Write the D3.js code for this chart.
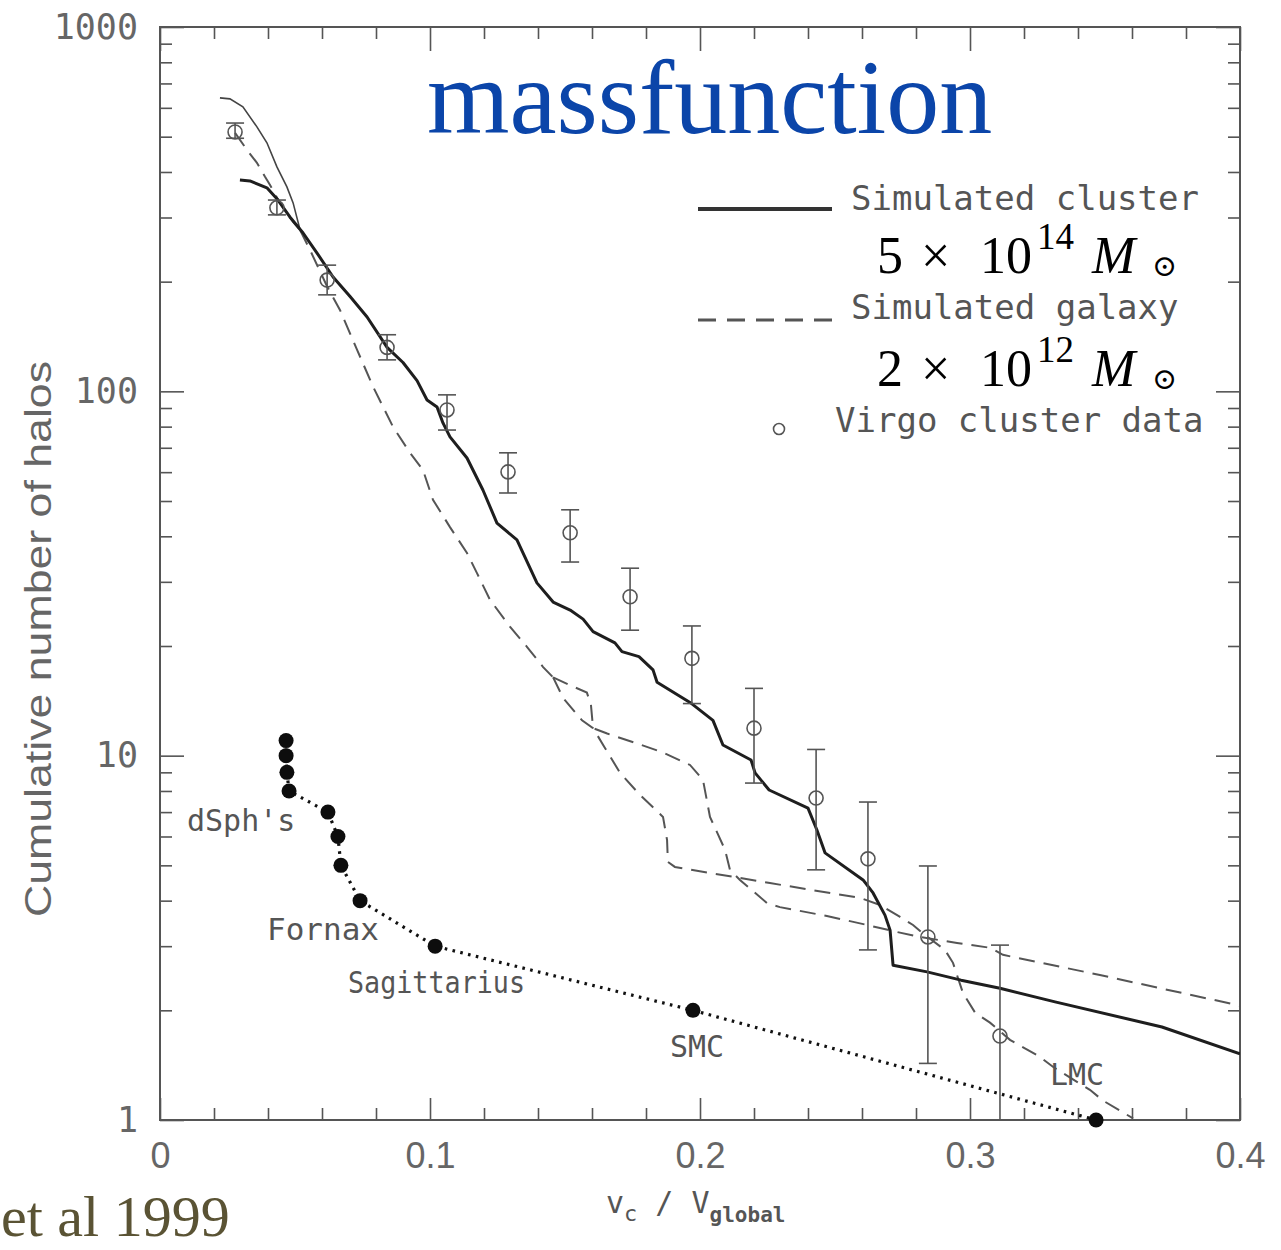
<!DOCTYPE html>
<html><head><meta charset="utf-8">
<script src="https://cdnjs.cloudflare.com/ajax/libs/d3/7.8.5/d3.min.js"></script>
<style>body{margin:0;background:#fff}svg{display:block}</style>
</head><body>
<svg id="chart" width="1281" height="1250"></svg>
<script>
// ---------- data ----------
const xTickValues = [0, 0.1, 0.2, 0.3, 0.4];
const xTickLabels = ["0", "0.1", "0.2", "0.3", "0.4"];
const xMinorTickValues = [0.02,0.04,0.06,0.08,0.12,0.14,0.16,0.18,0.22,0.24,0.26,0.28,0.32,0.34,0.36,0.38];
const yTickValues = [1, 10, 100, 1000];
const yTickLabels = ["1", "10", "100", "1000"];
const yMinorTickValues = [2,3,4,5,6,7,8,9,20,30,40,50,60,70,80,90,200,300,400,500,600,700,800,900];

// Simulated cluster (solid)
const clusterV = [0.0296,0.0333,0.0396,0.0437,0.0481,0.0530,0.0581,0.0641,0.0704,0.0767,0.0841,0.0900,0.0952,0.0989,0.1026,0.1048,0.1074,0.1137,0.1196,0.1248,0.1322,0.1396,0.1456,0.1519,0.1567,0.1604,0.1685,0.1711,0.1774,0.1826,0.1841,0.1963,0.2048,0.2085,0.2189,0.2204,0.2256,0.2400,0.2433,0.2463,0.2604,0.2641,0.2685,0.2704,0.2715,0.2841,0.2967,0.3111,0.3315,0.3711,0.4000];
const clusterN = [380,378,362,335,301,272,240,206,182,160,132,120,107,94.7,90.6,81.9,75.0,65.6,53.6,43.5,39.1,29.8,26.4,25.1,23.7,21.9,20.4,19.3,18.7,17.2,15.9,14.0,12.5,10.7,9.73,8.97,8.05,7.18,6.25,5.41,4.56,4.20,3.65,3.32,2.66,2.55,2.42,2.30,2.11,1.80,1.52];

// Simulated galaxies (dashed); head of first curve appears solid/thin
const galaxyHeadSolidV = [0.0222,0.0259,0.0307,0.0359,0.0396,0.0433,0.0470,0.0493,0.0519];
const galaxyHeadSolidN = [639,635,604,532,481,413,364,329,277];
const galaxyHeadDashedV = [0.0278,0.0322,0.0359,0.0389,0.0407,0.0444,0.0493,0.0519];
const galaxyHeadDashedN = [512,460,424,388,369,329,292,277];
const galaxyTrunkV = [0.0519,0.0556,0.0619,0.0667,0.0730,0.0789,0.0863,0.0926,0.0974,0.1011,0.1074,0.1137,0.1174,0.1222,0.1296,0.1359,0.1419,0.1456];
const galaxyTrunkN = [277,244,194,167,130,103,79.9,67.8,60.8,50.4,42.4,36.0,31.7,26.8,22.6,19.9,17.5,16.4];
const galaxyAV = [0.1456,0.1519,0.1581,0.1596,0.1604,0.1656,0.1767,0.1863,0.1963,0.2011,0.2037,0.2093,0.2111,0.2148,0.2248,0.2296,0.2470,0.2619,0.2730,0.2815,0.2952,0.3074,0.3122,0.3481,0.4000];
const galaxyAN = [16.4,15.6,14.9,13.8,11.9,11.5,10.8,10.2,9.43,8.58,6.79,5.51,4.86,4.56,3.94,3.84,3.63,3.43,3.28,3.18,3.06,2.97,2.84,2.50,2.06];
const galaxyBV = [0.1456,0.1493,0.1563,0.1604,0.1648,0.1704,0.1778,0.1863,0.1878,0.1881,0.1907,0.2037,0.2148,0.2259,0.2593,0.2667,0.2741,0.2789,0.2833,0.2907,0.2937,0.2974,0.3019,0.3074,0.3148,0.3259,0.3307,0.3444,0.3493,0.3604];
const galaxyBN = [16.4,14.4,12.5,11.9,10.5,8.97,7.80,6.79,5.87,5.11,4.95,4.76,4.62,4.47,4.07,3.89,3.61,3.43,3.22,2.93,2.70,2.23,1.97,1.85,1.66,1.49,1.40,1.21,1.13,1.01];

// Virgo cluster data with error bars
const virgoV  = [0.0278,0.0433,0.0619,0.0841,0.1063,0.1289,0.1519,0.1741,0.1970,0.2200,0.2430,0.2622,0.2844,0.3111];
const virgoN  = [515,319,202,132,88.9,60.1,40.9,27.3,18.5,11.9,7.65,5.21,3.18,1.70];
const virgoLo = [495,305,184,122,78.3,52.6,34.0,22.1,13.9,8.41,4.86,2.93,1.43,1.0];
const virgoHi = [545,335,222,143,97.8,67.8,47.3,32.7,22.7,15.3,10.4,7.46,4.98,3.02];

// Milky Way satellites
const mwV = [0.0467,0.0467,0.0470,0.0478,0.0622,0.0659,0.0670,0.0741,0.1019,0.1974,0.3467];
const mwN = [11,10,9,8,7,6,5,4,3,2,1];

// ---------- drawing ----------
const svg = d3.select("#chart");
const x = d3.scaleLinear().domain([0, 0.4]).range([160, 1240]);
const y = d3.scaleLog().domain([1, 1000]).range([1120, 27]);
const GRAY = "#555";
const MONO = "'DejaVu Sans Mono', 'Liberation Mono', monospace";

svg.append("rect").attr("width",1281).attr("height",1250).attr("fill","#fff");

svg.append("defs").append("clipPath").attr("id","plotclip")
  .append("rect").attr("x",160).attr("y",27).attr("width",1080).attr("height",1093);

function styleAxis(g){
  g.select(".domain").remove();
  g.selectAll(".tick line").attr("stroke",GRAY).attr("stroke-width",1.6);
}

// bottom
svg.append("g").attr("transform","translate(0,1120)")
  .call(d3.axisBottom(x).tickValues(xTickValues).tickSize(-22).tickPadding(22)
        .tickFormat((d,i)=>xTickLabels[i]))
  .call(styleAxis)
  .call(g=>g.selectAll("text").attr("font-family","'Liberation Sans', Arial, sans-serif")
        .attr("font-size",36).attr("fill","#666"));
svg.append("g").attr("transform","translate(0,1120)")
  .call(d3.axisBottom(x).tickValues(xMinorTickValues).tickSize(-12).tickFormat(""))
  .call(styleAxis);
// top
svg.append("g").attr("transform","translate(0,27)")
  .call(d3.axisTop(x).tickValues(xTickValues).tickSize(-24).tickFormat(""))
  .call(styleAxis);
svg.append("g").attr("transform","translate(0,27)")
  .call(d3.axisTop(x).tickValues(xMinorTickValues).tickSize(-12).tickFormat(""))
  .call(styleAxis);
// left
svg.append("g").attr("transform","translate(160,0)")
  .call(d3.axisLeft(y).tickValues(yTickValues).tickSize(-24).tickPadding(22)
        .tickFormat((d,i)=>yTickLabels[i]))
  .call(styleAxis)
  .call(g=>g.selectAll("text").attr("font-family",MONO).attr("font-size",35).attr("fill","#666"));
svg.append("g").attr("transform","translate(160,0)")
  .call(d3.axisLeft(y).tickValues(yMinorTickValues).tickSize(-12).tickFormat(""))
  .call(styleAxis);
// right
svg.append("g").attr("transform","translate(1240,0)")
  .call(d3.axisRight(y).tickValues(yTickValues).tickSize(-24).tickFormat(""))
  .call(styleAxis);
svg.append("g").attr("transform","translate(1240,0)")
  .call(d3.axisRight(y).tickValues(yMinorTickValues).tickSize(-12).tickFormat(""))
  .call(styleAxis);

// frame
svg.append("rect").attr("x",x(0)).attr("y",y(1000)).attr("width",x(0.4)-x(0)).attr("height",y(1)-y(1000))
  .attr("fill","none").attr("stroke",GRAY).attr("stroke-width",2);

const line = d3.line().x(d=>x(d[0])).y(d=>y(d[1]));
const plot = svg.append("g").attr("clip-path","url(#plotclip)");

// galaxy curves
plot.append("path").datum(d3.zip(galaxyHeadSolidV, galaxyHeadSolidN)).attr("d",line)
  .attr("fill","none").attr("stroke","#444").attr("stroke-width",1.6);
[[galaxyHeadDashedV,galaxyHeadDashedN],[galaxyTrunkV,galaxyTrunkN],[galaxyAV,galaxyAN],[galaxyBV,galaxyBN]]
  .forEach(([v,n])=>{
    plot.append("path").datum(d3.zip(v,n)).attr("d",line)
      .attr("fill","none").attr("stroke","#555").attr("stroke-width",2)
      .attr("stroke-dasharray","16,9");
  });

// cluster curve
plot.append("path").datum(d3.zip(clusterV, clusterN)).attr("d",line)
  .attr("fill","none").attr("stroke","#1e1e1e").attr("stroke-width",3).attr("stroke-linejoin","round");

// Virgo data
const virgo = virgoV.map((v,i)=>({v, n:virgoN[i], lo:virgoLo[i], hi:virgoHi[i]}));
const vg = plot.append("g").attr("stroke","#555").attr("stroke-width",1.6).attr("fill","none");
vg.selectAll("line.bar").data(virgo).join("line").attr("class","bar")
  .attr("x1",d=>x(d.v)).attr("x2",d=>x(d.v)).attr("y1",d=>y(d.lo)).attr("y2",d=>y(d.hi));
vg.selectAll("line.capHi").data(virgo).join("line").attr("class","capHi")
  .attr("x1",d=>x(d.v)-9).attr("x2",d=>x(d.v)+9).attr("y1",d=>y(d.hi)).attr("y2",d=>y(d.hi));
vg.selectAll("line.capLo").data(virgo.filter(d=>d.lo>1)).join("line").attr("class","capLo")
  .attr("x1",d=>x(d.v)-9).attr("x2",d=>x(d.v)+9).attr("y1",d=>y(d.lo)).attr("y2",d=>y(d.lo));
vg.selectAll("circle").data(virgo).join("circle")
  .attr("cx",d=>x(d.v)).attr("cy",d=>y(d.n)).attr("r",7);

// Milky Way satellites
const mw = d3.zip(mwV, mwN);
svg.append("path").datum(mw).attr("d",line).attr("fill","none")
  .attr("stroke","#111").attr("stroke-width",3.2).attr("stroke-dasharray","2.6,5.4");
svg.append("g").selectAll("circle").data(mw).join("circle")
  .attr("cx",d=>x(d[0])).attr("cy",d=>y(d[1])).attr("r",7.5).attr("fill","#0d0d0d");

// satellite labels
const lab = svg.append("g").attr("font-family",MONO).attr("font-size",30).attr("fill",GRAY);
lab.append("text").attr("x",187).attr("y",831).text("dSph's");
lab.append("text").attr("x",267).attr("y",940).attr("textLength",112).attr("lengthAdjust","spacingAndGlyphs").text("Fornax");
lab.append("text").attr("x",348).attr("y",993).attr("textLength",177).attr("lengthAdjust","spacingAndGlyphs").text("Sagittarius");
lab.append("text").attr("x",670).attr("y",1057).text("SMC");
lab.append("text").attr("x",1050).attr("y",1085).text("LMC");

// legend
const leg = svg.append("g");
leg.append("line").attr("x1",698).attr("x2",832).attr("y1",209).attr("y2",209)
  .attr("stroke","#333").attr("stroke-width",4);
leg.append("line").attr("x1",698).attr("x2",832).attr("y1",320).attr("y2",320)
  .attr("stroke","#555").attr("stroke-width",3).attr("stroke-dasharray","18,11");
leg.append("circle").attr("cx",779).attr("cy",429).attr("r",5.5).attr("fill","none")
  .attr("stroke","#555").attr("stroke-width",1.6);
const legText = leg.append("g").attr("font-family",MONO).attr("font-size",34).attr("fill",GRAY);
legText.append("text").attr("x",851).attr("y",210).text("Simulated cluster");
legText.append("text").attr("x",851).attr("y",319).text("Simulated galaxy");
legText.append("text").attr("x",835).attr("y",432).text("Virgo cluster data");

function massLabel(base, mant, expo){
  const g = leg.append("g").attr("font-family","'Liberation Serif','Times New Roman',serif").attr("fill","#000");
  g.append("text").attr("x",877).attr("y",base).attr("font-size",52).text(mant);
  g.append("text").attr("x",921).attr("y",base).attr("font-size",52).text("×");
  g.append("text").attr("x",980).attr("y",base).attr("font-size",52).text("10");
  g.append("text").attr("x",1037).attr("y",base-24).attr("font-size",37).text(expo);
  g.append("text").attr("x",1092).attr("y",base).attr("font-size",52).attr("font-style","italic").text("M");
  g.append("text").attr("x",1152).attr("y",base+3).attr("font-size",30)
    .attr("font-family","'DejaVu Serif',serif").text("⊙");
}
massLabel(273, "5", "14");
massLabel(386, "2", "12");

// axis titles
svg.append("text").attr("transform","translate(51,639) rotate(-90)")
  .attr("text-anchor","middle").attr("font-family","'Liberation Sans', Arial, sans-serif")
  .attr("font-size",37).attr("fill","#666")
  .attr("textLength",556).attr("lengthAdjust","spacingAndGlyphs")
  .text("Cumulative number of halos");

const xt = svg.append("text").attr("x",606).attr("y",1213).attr("font-family",MONO)
  .attr("font-size",30).attr("fill",GRAY);
xt.append("tspan").text("v");
xt.append("tspan").attr("font-size",22).attr("dy",8).text("c");
xt.append("tspan").attr("dy",-8).text(" / V");
xt.append("tspan").attr("font-size",21).attr("font-weight","bold").attr("dy",9).text("global");

// title and footer
svg.append("text").attr("x",427).attr("y",133)
  .attr("font-family","'Liberation Serif','Times New Roman',serif")
  .attr("font-size",106).attr("fill","#0b45a9").text("massfunction");
svg.append("text").attr("x",1).attr("y",1236)
  .attr("font-family","'Liberation Serif','Times New Roman',serif")
  .attr("font-size",58).attr("fill","#5a5334").text("et al 1999");
</script>
</body></html>
